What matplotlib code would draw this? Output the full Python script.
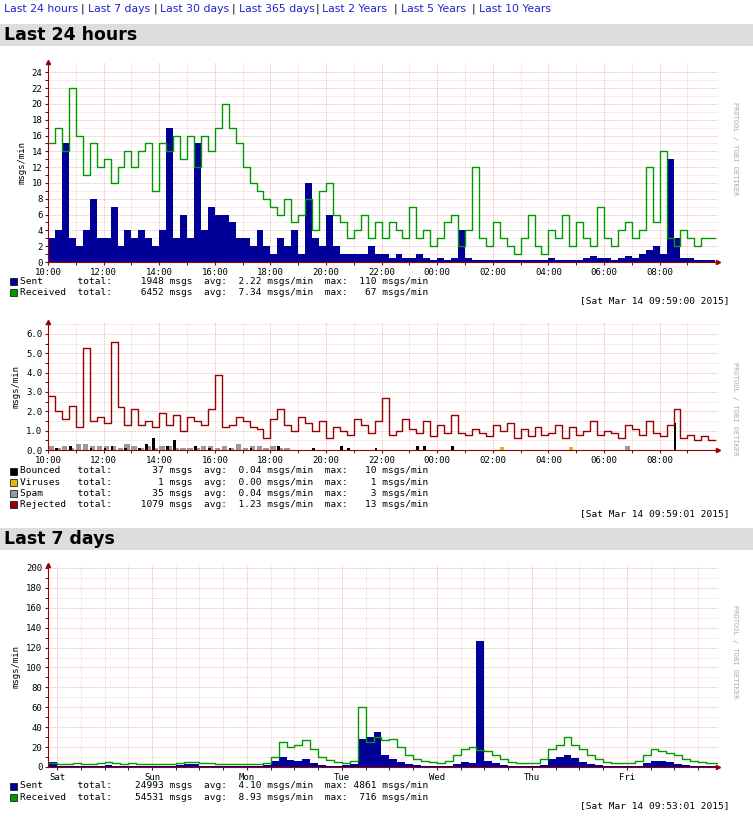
import matplotlib
matplotlib.use("Agg")
import matplotlib.pyplot as plt
import numpy as np
from matplotlib.patches import Rectangle

W, H = 753, 819
MONO = "DejaVu Sans Mono"

# ---------------- data ----------------
hour_labels = ["10:00","12:00","14:00","16:00","18:00","20:00","22:00","00:00","02:00","04:00","06:00","08:00"]
received_24h = [15,17,14,22, 16,11,15,12, 13,10,12,14, 12,14,15,9, 15,14,16,13, 16,12,16,14,
                17,20,17,15, 12,10,9,8, 7,6,8,5, 6,8,4,9, 10,6,5,3, 4,6,3,5,
                3,5,4,3, 7,3,4,2, 3,5,6,2, 4,12,3,2, 5,3,2,1, 3,6,2,1,
                4,3,6,2, 5,3,2,7, 3,2,4,5, 3,4,12,5, 14,3,2,4, 3,2,3,3]
sent_24h = [3,4,15,3, 2,4,8,3, 3,7,2,4, 3,4,3,2, 4,17,3,6, 3,15,4,7,
            6,6,5,3, 3,2,4,2, 1,3,2,4, 1,10,3,2, 6,2,1,1, 1,1,2,1,
            1,0.5,1,0.5, 0.5,1,0.5,0.3, 0.5,0.3,0.5,4, 0.5,0.3,0.2,0.3, 0.3,0.2,0.3,0.2, 0.3,0.2,0.2,0.3,
            0.5,0.3,0.2,0.3, 0.3,0.5,0.8,0.5, 0.5,0.3,0.5,0.8, 0.5,1,1.5,2, 1,13,3,0.5, 0.5,0.3,0.3,0.2]
rejected_24h = [2.8,2.0,1.6,2.3, 1.2,5.3,1.5,1.7, 1.4,5.6,2.2,1.3, 2.1,1.3,1.5,1.2, 1.9,1.3,1.8,1.0,
                1.7,1.5,1.3,2.1, 3.9,1.2,1.3,1.7, 1.5,1.2,1.1,0.6, 1.6,2.1,1.3,1.0, 1.7,1.4,1.0,1.5,
                0.6,1.2,1.0,0.8, 1.6,1.3,0.9,1.5, 2.7,0.8,1.0,1.6, 1.1,0.9,1.5,0.7, 1.3,0.9,1.8,0.9,
                0.8,1.1,0.9,0.7, 1.3,1.0,1.4,0.6, 1.1,0.7,1.2,0.8, 0.9,1.3,0.6,1.2, 0.8,1.0,1.5,0.8,
                1.0,0.9,0.6,1.3, 1.1,0.8,1.5,0.9, 0.7,1.3,2.1,0.6, 0.8,0.5,0.7,0.5]
bounced_24h = [0,0.1,0,0.2, 0,0,0.1,0, 0.1,0.2,0,0.1, 0,0.1,0.3,0.6, 0,0.2,0.5,0, 0,0.2,0,0.1,
               0,0,0.1,0, 0,0.1,0,0, 0,0.2,0,0, 0,0,0.1,0, 0,0,0.2,0.1, 0,0,0,0.1,
               0,0,0,0, 0,0.2,0.2,0, 0,0,0.2,0, 0,0,0,0, 0,0,0,0, 0,0,0,0,
               0,0,0,0, 0,0,0,0, 0,0,0,0, 0,0,0,0, 0,0,1.4,0, 0,0,0,0]
spam_24h = [0.2,0.1,0.2,0.1, 0.3,0.3,0.2,0.2, 0.2,0.2,0.1,0.3, 0.2,0.1,0.2,0.1, 0.2,0.2,0.1,0.1,
            0.1,0.1,0.2,0.2, 0.1,0.2,0.1,0.3, 0.1,0.2,0.2,0.1, 0.2,0.1,0.1,0, 0,0,0,0,
            0,0,0,0, 0,0,0,0, 0,0,0,0, 0,0,0,0, 0,0,0,0, 0,0,0,0, 0,0,0,0, 0,0,0,0,
            0,0,0,0, 0,0,0,0, 0,0,0,0.2, 0,0,0,0, 0,0,0,0, 0,0,0,0]
viruses_24h = [0]*65 + [0.15] + [0]*9 + [0.15] + [0]*20

day_labels = ["Sat","Sun","Mon","Tue","Wed","Thu","Fri"]
received_7d = [4,
    3,3,4,3,3,4,5,4,3,4,3,3,
    3,3,3,4,5,5,4,4,3,3,3,3,
    3,3,4,10,25,20,22,27,18,10,7,5,
    4,6,60,25,30,27,28,20,12,8,6,5,
    4,6,12,18,20,17,16,12,8,5,4,4,
    4,8,18,22,30,22,18,12,8,5,4,4,
    4,6,12,18,16,14,12,8,6,5,4,4]
sent_7d = [5,
    1,1,1,1,1,1,2,1,1,1,1,1,
    1,1,1,2,3,3,1,1,1,1,1,1,
    1,1,2,6,10,7,6,8,4,2,1,1,
    2,3,28,30,35,12,8,5,3,2,1,1,
    1,1,3,5,4,127,6,4,2,1,1,1,
    1,2,8,10,12,9,5,3,2,1,1,1,
    1,1,4,6,6,5,3,2,1,1,1,1]

BLUE = "#000099"; GREEN = "#009900"; RED = "#990000"
GRID = "#f0b0b0"

fig = plt.figure(figsize=(W/100, H/100), dpi=100)
fig.patch.set_facecolor("white")

def px_axes(left, top, right, bottom):
    return fig.add_axes([left/W, 1-bottom/H, (right-left)/W, (bottom-top)/H])

def style(ax, yticks, yfmt, xticks, xlabels):
    ax.set_facecolor("white")
    for s in ["top","right"]:
        ax.spines[s].set_visible(False)
    for s in ["left","bottom"]:
        ax.spines[s].set_color(RED); ax.spines[s].set_linewidth(0.8)
    ax.set_yticks(yticks)
    ax.set_yticklabels([yfmt(v) for v in yticks], fontsize=6.5, family=MONO)
    ax.set_xticks(xticks)
    ax.set_xticklabels(xlabels, fontsize=6.5, family=MONO)
    ax.tick_params(length=2, color=RED, pad=2)
    ax.grid(True, color=GRID, linestyle=(0,(1,1)), linewidth=0.6)
    ax.set_axisbelow(True)
    ax.plot(1, 0, ">", color=RED, ms=3, transform=ax.transAxes, clip_on=False)
    ax.plot(0, 1, "^", color=RED, ms=3, transform=ax.transAxes, clip_on=False)

def header(y0, y1, text):
    fig.patches.append(Rectangle((0, 1-y1/H), 1, (y1-y0)/H, transform=fig.transFigure,
                                 facecolor="#dddddd", edgecolor="none"))
    fig.text(4/W, 1-(y0+y1)/2/H, text, fontsize=12.5, fontweight="bold", va="center", family="DejaVu Sans")

def legend(rows, y0, color_list, dy=11.3):
    for i, (c, t) in enumerate(zip(color_list, rows)):
        y = y0 + i*dy
        fig.patches.append(Rectangle((10/W, 1-(y+3.5)/H), 7/W, 7/H, transform=fig.transFigure,
                                     facecolor=c, edgecolor="black", linewidth=0.5))
        fig.text(20/W, 1-y/H, t, fontsize=6.8, family=MONO, va="center")

def side(top, bottom):
    fig.text(735/W, 1-(top+40)/H, "PROTOOL / TOBI OETIKER", rotation=270, fontsize=5,
             color="#aaaaaa", family=MONO, va="top", ha="center")

# top links
links = ["Last 24 hours","Last 7 days","Last 30 days","Last 365 days","Last 2 Years","Last 5 Years","Last 10 Years"]
x = 4
for i, l in enumerate(links):
    t = fig.text(x/W, 1-9/H, l, fontsize=7.8, color="#2222cc", va="center")
    x += len(l)*5.6 + 4
    if i < len(links)-1:
        fig.text(x/W, 1-9/H, "|", fontsize=7.8, color="black", va="center")
        x += 7

header(24, 46, "Last 24 hours")
header(528, 550, "Last 7 days")

# chart 1
xh = np.arange(len(received_24h)+1)*0.25
ax1 = px_axes(48, 62, 718, 262)
s = sent_24h + [sent_24h[-1]]; r = received_24h + [received_24h[-1]]
ax1.fill_between(xh, s, step="post", color=BLUE, linewidth=0)
ax1.step(xh, r, where="post", color=GREEN, linewidth=1)
ax1.set_xlim(0, 24.1); ax1.set_ylim(0, 25.3)
ax1.set_yticks(np.arange(0, 25, 1), minor=True)
ax1.set_xticks(np.arange(0, 24, 1), minor=True)
style(ax1, list(range(0, 25, 2)), lambda v: f"{v}", list(range(0, 24, 2)), hour_labels)
ax1.grid(True, which="minor", color=GRID, linestyle=(0,(1,1)), linewidth=0.4)
ax1.set_ylabel("msgs/min", fontsize=6.5, family=MONO, labelpad=4)
side(62, 262)
legend(["Sent      total:     1948 msgs  avg:  2.22 msgs/min  max:  110 msgs/min",
        "Received  total:     6452 msgs  avg:  7.34 msgs/min  max:   67 msgs/min"], 281, [BLUE, GREEN])
fig.text(729/W, 1-301/H, "[Sat Mar 14 09:59:00 2015]", fontsize=6.8, family=MONO, ha="right", va="center")

# chart 2
ax2 = px_axes(48, 322, 718, 450)
rj = rejected_24h + [rejected_24h[-1]]
ax2.bar(xh[:-1], spam_24h, width=0.2, align="edge", color="#999999")
ax2.bar(xh[:-1], bounced_24h, width=0.1, align="edge", color="black")
ax2.bar(xh[:-1], viruses_24h, width=0.15, align="edge", color="#ddbb00")
ax2.step(xh, rj, where="post", color=RED, linewidth=1)
ax2.set_xlim(0, 24.1); ax2.set_ylim(0, 6.62)
ax2.set_yticks(np.arange(0, 6.6, 0.5), minor=True)
ax2.set_xticks(np.arange(0, 24, 1), minor=True)
style(ax2, [0,1,2,3,4,5,6], lambda v: f"{v:.1f}", list(range(0, 24, 2)), hour_labels)
ax2.grid(True, which="minor", color=GRID, linestyle=(0,(1,1)), linewidth=0.4)
ax2.set_ylabel("msgs/min", fontsize=6.5, family=MONO, labelpad=4)
side(322, 450)
legend(["Bounced   total:       37 msgs  avg:  0.04 msgs/min  max:   10 msgs/min",
        "Viruses   total:        1 msgs  avg:  0.00 msgs/min  max:    1 msgs/min",
        "Spam      total:       35 msgs  avg:  0.04 msgs/min  max:    3 msgs/min",
        "Rejected  total:     1079 msgs  avg:  1.23 msgs/min  max:   13 msgs/min"],
       471, ["black", "#ddbb00", "#999999", RED])
fig.text(729/W, 1-514/H, "[Sat Mar 14 09:59:01 2015]", fontsize=6.8, family=MONO, ha="right", va="center")

# chart 3
xd = -2/24 + np.arange(len(received_7d)+1)*(2/24)
ax3 = px_axes(48, 565, 718, 767)
s7 = sent_7d + [sent_7d[-1]]; r7 = received_7d + [received_7d[-1]]
ax3.fill_between(xd, s7, step="post", color=BLUE, linewidth=0)
ax3.step(xd, r7, where="post", color=GREEN, linewidth=1)
ax3.set_xlim(-0.095, 6.96); ax3.set_ylim(0, 203)
ax3.set_yticks(np.arange(0, 201, 10), minor=True)
ax3.set_xticks(np.arange(0, 7, 0.25), minor=True)
style(ax3, list(range(0, 201, 20)), lambda v: f"{v}", list(range(7)), day_labels)
ax3.grid(True, which="minor", color=GRID, linestyle=(0,(1,1)), linewidth=0.4)
ax3.set_ylabel("msgs/min", fontsize=6.5, family=MONO, labelpad=4)
side(565, 767)
legend(["Sent      total:    24993 msgs  avg:  4.10 msgs/min  max: 4861 msgs/min",
        "Received  total:    54531 msgs  avg:  8.93 msgs/min  max:  716 msgs/min"], 786, [BLUE, GREEN])
fig.text(729/W, 1-806/H, "[Sat Mar 14 09:53:01 2015]", fontsize=6.8, family=MONO, ha="right", va="center")

fig.savefig("out.png", dpi=100)
